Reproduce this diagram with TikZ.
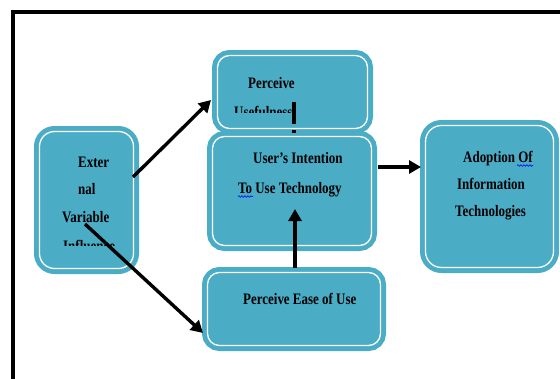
\documentclass[tikz,border=0pt]{standalone}
\usepackage{fontspec}
\setmainfont{Liberation Serif}[FakeStretch=0.81]
\usetikzlibrary{arrows.meta,decorations.pathmorphing}
\definecolor{boxblue}{RGB}{75,172,198}

\tikzset{
  card/.style={shape=rectangle, fill=boxblue, draw=white, line width=1.3pt,
    inner sep=0pt, rounded corners=12pt,
    preaction={draw=boxblue, line width=11pt}},
  lbl/.style={anchor=base west, inner sep=0pt,
    font=\fontsize{16}{19}\selectfont\bfseries},
  link/.style={line width=3.4pt, -{Triangle[length=12pt,width=13pt]}},
  plain/.style={line width=3.4pt},
  spell/.style={draw=blue, line width=0.6pt, decorate,
    decoration={snake, amplitude=0.8pt, segment length=3pt}}
}

\begin{document}
\begin{tikzpicture}[x=1pt,y=-1pt]
  \useasboundingbox (0,0) rectangle (560,378);

  % outer frame
  \draw[line width=3.5pt] (13,380) -- (13,12) -- (562,12);

  % boxes
  \node[card, minimum width=150pt, minimum height=73pt] (use) at (292.5,92) {};
  \node[card, minimum width=159pt, minimum height=109pt] (intent) at (292,191) {};
  \node[card, minimum width=173pt, minimum height=73pt] (ease) at (294,309) {};
  \node[card, minimum width=128pt, minimum height=142pt, rounded corners=16pt] (adopt) at (489.5,196.5) {};
  \node[card, minimum width=94pt, minimum height=137pt, rounded corners=15pt] (ext) at (86.5,200) {};

  % labels
  \node[lbl] (t1) at (248,88) {Perceive};
  \begin{scope}
    \clip (200,95) rectangle (380,112.5);
    \node[lbl] (t2) at (234,117) {Usefulness};
  \end{scope}

  \node[lbl] (t3) at (78,167) {Exter};
  \node[lbl] (t4) at (78,194) {nal};
  \node[lbl] (t5) at (62,222) {Variable};
  \begin{scope}
    \clip (40,230) rectangle (135,245);
    \node[lbl] (t6) at (63,251) {Influence};
  \end{scope}

  \node[lbl] (t7) at (253,163) {User’s Intention};
  \node[lbl] (t8) at (238,193) {To Use Technology};

  \node[lbl] (t9) at (463,162) {Adoption Of};
  \node[lbl] (t10) at (457,189) {Information};
  \node[lbl] (t11) at (455,216) {Technologies};

  \node[lbl] (t12) at (243,304) {Perceive Ease of Use};

  % spelling marks
  \draw[spell] (238,196.5) -- (253,196.5);
  \draw[spell] (517,165.5) -- (533,165.5);

  % connector end points
  \coordinate (extA) at (133,177);
  \coordinate (useIn) at (211,100);
  \coordinate (extB) at (85,224);
  \coordinate (easeIn) at (203,333);
  \coordinate (easeTop) at (295,268);
  \coordinate (intentBot) at (295,209);
  \coordinate (intentR) at (378,167);
  \coordinate (adoptL) at (421,167);
  \coordinate (useA) at (294,102);
  \coordinate (useB) at (294,124);
  \coordinate (useC) at (294,130);
  \coordinate (useD) at (294,133);

  % connectors
  \draw[link] (extA) -- (useIn);
  \draw[link] (extB) -- (easeIn);
  \draw[link] (easeTop) -- (intentBot);
  \draw[link] (intentR) -- (adoptL);
  \draw[plain] (useA) -- (useB) (useC) -- (useD);
\end{tikzpicture}
\end{document}
